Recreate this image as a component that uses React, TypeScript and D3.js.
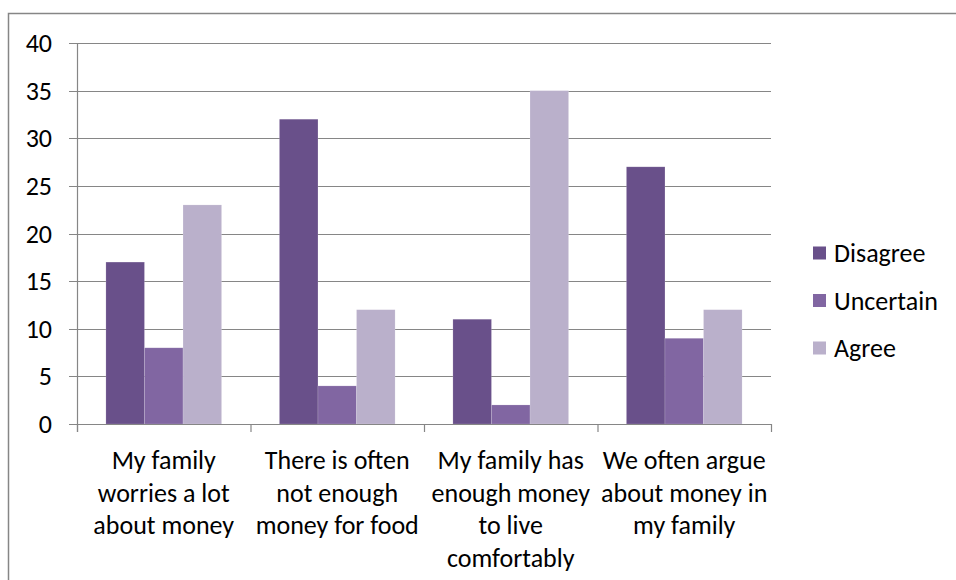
import React, { useEffect, useRef } from "react";
import * as d3 from "d3";

const categories = [
  ["My family", "worries a lot", "about money"],
  ["There is often", "not enough", "money for food"],
  ["My family has", "enough money", "to live", "comfortably"],
  ["We often argue", "about money in", "my family"],
];
const seriesNames = ["Disagree", "Uncertain", "Agree"];
const disagree = [17, 32, 11, 27];
const uncertain = [8, 4, 2, 9];
const agree = [23, 12, 35, 12];
const yTicks = [0, 5, 10, 15, 20, 25, 30, 35, 40];

const colors = ["#69508a", "#8166a2", "#bab0cb"];
const FONT = "Carlito, Lato, 'Open Sans', sans-serif";
const FS = 26;

const App: React.FC = () => {
  const ref = useRef<SVGSVGElement | null>(null);

  useEffect(() => {
    const width = 956;
    const height = 580;
    const left = 77;
    const right = 771;
    const top = 43;
    const bottom = 424;

    const svg = d3.select(ref.current).attr("width", width).attr("height", height);
    svg.selectAll("*").remove();

    // outer frame (only top and left edges visible)
    svg
      .append("path")
      .attr("d", `M8.5,${height} V13.5 H${width}`)
      .attr("fill", "none")
      .attr("stroke", "#868686")
      .attr("stroke-width", 1.5);

    const x = d3
      .scaleBand<number>()
      .domain(d3.range(categories.length))
      .range([left, right])
      .paddingInner(0)
      .paddingOuter(0);

    const y = d3.scaleLinear().domain([0, 40]).range([bottom, top]);

    // gridlines + y tick labels
    const grid = svg.append("g");
    grid
      .selectAll("line")
      .data(yTicks)
      .join("line")
      .attr("x1", left - 8)
      .attr("x2", right)
      .attr("y1", (d) => Math.round(y(d)) + 0.5)
      .attr("y2", (d) => Math.round(y(d)) + 0.5)
      .attr("stroke", "#868686")
      .attr("stroke-width", 1.2);

    grid
      .selectAll("text")
      .data(yTicks)
      .join("text")
      .attr("x", 52)
      .attr("y", (d) => y(d))
      .attr("dy", "0.35em")
      .attr("text-anchor", "end")
      .attr("font-family", FONT)
      .attr("font-size", FS)
      .attr("fill", "#000")
      .text((d) => d);

    // bars
    const series = [disagree, uncertain, agree];
    const band = x.bandwidth();
    const barW = band / 4.5;
    const inner = d3
      .scaleBand<number>()
      .domain(d3.range(series.length))
      .range([0, barW * 3]);

    series.forEach((vals, si) => {
      svg
        .append("g")
        .selectAll("rect")
        .data(vals)
        .join("rect")
        .attr("x", (_, i) => (x(i) as number) + barW * 0.75 + (inner(si) as number))
        .attr("y", (d) => y(d))
        .attr("width", inner.bandwidth())
        .attr("height", (d) => y(0) - y(d))
        .attr("fill", colors[si])
        .attr("stroke", "#ffffff")
        .attr("stroke-opacity", 0.25)
        .attr("stroke-width", 0.6);
    });

    // axis lines
    svg
      .append("line")
      .attr("x1", left + 0.5)
      .attr("x2", left + 0.5)
      .attr("y1", top)
      .attr("y2", bottom + 8)
      .attr("stroke", "#868686")
      .attr("stroke-width", 1.2);

    svg
      .append("line")
      .attr("x1", left - 8)
      .attr("x2", right)
      .attr("y1", bottom + 0.5)
      .attr("y2", bottom + 0.5)
      .attr("stroke", "#868686")
      .attr("stroke-width", 1.2);

    // category ticks
    svg
      .append("g")
      .selectAll("line")
      .data(d3.range(categories.length + 1))
      .join("line")
      .attr("x1", (i) => left + i * band + 0.5)
      .attr("x2", (i) => left + i * band + 0.5)
      .attr("y1", bottom)
      .attr("y2", bottom + 8)
      .attr("stroke", "#868686")
      .attr("stroke-width", 1.2);

    // category labels
    const labels = svg.append("g");
    categories.forEach((lines, i) => {
      const t = labels
        .append("text")
        .attr("text-anchor", "middle")
        .attr("font-family", FONT)
        .attr("font-size", FS)
        .attr("fill", "#000");
      lines.forEach((line, li) => {
        t.append("tspan")
          .attr("x", (x(i) as number) + band / 2)
          .attr("y", 469 + li * 32.5)
          .text(line);
      });
    });

    // legend
    const legend = svg.append("g");
    seriesNames.forEach((name, i) => {
      const ly = 253 + i * 47.5;
      legend
        .append("rect")
        .attr("x", 813)
        .attr("y", ly - 6.5)
        .attr("width", 13)
        .attr("height", 13)
        .attr("fill", colors[i]);
      legend
        .append("text")
        .attr("x", 834)
        .attr("y", ly)
        .attr("dy", "0.35em")
        .attr("font-family", FONT)
        .attr("font-size", FS)
        .attr("fill", "#000")
        .text(name);
    });
  }, []);

  return (
    <div style={{ position: "absolute", left: 0, top: 0 }}>
      <svg ref={ref}></svg>
    </div>
  );
};

export default App;
